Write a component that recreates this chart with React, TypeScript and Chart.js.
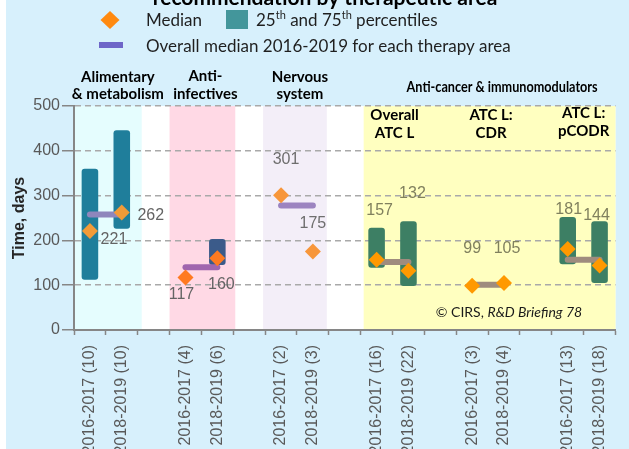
import React, { useEffect, useRef } from 'react';
import { Chart, registerables } from 'chart.js';

Chart.register(...registerables);

// ---------- DATA ----------
const categories = [
  '2016-2017 (10)', '2018-2019 (10)', '',
  '2016-2017 (4)', '2018-2019 (6)', '',
  '2016-2017 (2)', '2018-2019 (3)', '',
  '2016-2017 (16)', '2018-2019 (22)', '',
  '2016-2017 (3)', '2018-2019 (4)', '',
  '2016-2017 (13)', '2018-2019 (18)',
];
const percentile25 = [112, 226, null, null, 145, null, null, null, null, 139, 98, null, null, null, null, 147, 105];
const percentile75 = [360, 446, null, null, 203, null, null, null, null, 228, 243, null, null, null, null, 252, 243];
const medians = [221, 262, null, 117, 160, null, 301, 175, null, 157, 132, null, 99, 105, null, 181, 144];
const overallMedian = [258, 140, 278, 152, 101, 157];
const overallStart = [0, 3, 6, 9, 12, 15];
const yTicks = [0, 100, 200, 300, 400, 500];

// ---------- STYLES ----------
const W = 629;
const H = 449;
const barColors = ['#1F7E9B', '#1F7E9B', null, '#3B5B8A', '#3B5B8A', null, null, null, null,
  '#3D7F64', '#3D7F64', null, null, null, null, '#3D7F64', '#3D7F64'];
const diamondColors = ['#F29B38', '#F29B38', null, '#FF7A21', '#FF7A21', null, '#F7963A', '#F7963A', null,
  '#FF9900', '#FF9900', null, '#FF9900', '#FF9900', null, '#FF9900', '#FF9900'];
const overallColors = ['#8F86BC', '#A066AE', '#9C84C0', '#9F8C7E', '#9F8C7E', '#9F8C7E'];
const labelColors = ['#646464', '#646464', null, '#646464', '#646464', null, '#6E6E6E', '#6E6E6E', null,
  '#80805E', '#80805E', null, '#80805E', '#80805E', null, '#80805E', '#80805E'];
// label offsets relative to the diamond (pixels)
const labelOffsets: ([number, number] | null)[] = [
  [24, 9], [29, 3], null, [-4, 17], [4, 26], null, [5, -36], [0, -28], null,
  [3, -49], [4, -77], null, [0, -37], [3, -34], null, [1, -39], [-3, -50],
];
const bands = [
  { from: 0, to: 1, color: '#E5FDFE', dx0: 0, dx1: 4 },
  { from: 3, to: 4, color: '#FFD9E5', dx0: 0, dx1: 2 },
  { from: 6, to: 7, color: '#F3EEF8', dx0: -2, dx1: -2 },
  { from: 9, to: 16, color: '#FFFFC0', dx0: 3, dx1: 0 },
];

const LATO = 'Lato, "Open Sans", sans-serif';
const ARIAL = '"Liberation Sans", Arial, sans-serif';

function txt(ctx: CanvasRenderingContext2D, s: string, x: number, y: number, font: string, color: string, align: CanvasTextAlign = 'center', maxW?: number) {
  ctx.font = font;
  ctx.fillStyle = color;
  ctx.textAlign = align;
  ctx.textBaseline = 'middle';
  if (maxW) ctx.fillText(s, x, y, maxW);
  else ctx.fillText(s, x, y);
}

const decoPlugin = {
  id: 'deco',
  beforeDraw(chart: any) {
    const { ctx, chartArea: a, scales } = chart;
    const x = scales.x;
    const cw = (a.right - a.left) / categories.length;
    ctx.save();
    ctx.fillStyle = '#FFFFFF';
    ctx.fillRect(0, 0, W, H);
    ctx.fillStyle = '#D7F0FC';
    ctx.fillRect(6, 0, W - 6, H);
    ctx.fillStyle = '#FFFFFF';
    ctx.fillRect(a.left, a.top, a.right - a.left, a.bottom - a.top);
    bands.forEach((b) => {
      const x0 = Math.max(a.left, x.getPixelForValue(b.from) - cw / 2 + b.dx0);
      const x1 = Math.min(a.right, x.getPixelForValue(b.to) + cw / 2 + b.dx1);
      ctx.fillStyle = b.color;
      ctx.fillRect(x0, a.top, x1 - x0, a.bottom - a.top);
    });
    ctx.restore();
  },
  afterDraw(chart: any) {
    const { ctx, scales } = chart;
    const x = scales.x;
    const y = scales.y;
    ctx.save();

    // title (cut off at top)
    ctx.font = `bold 21px ${LATO}`;
    ctx.fillStyle = '#000000';
    ctx.textAlign = 'center';
    ctx.textBaseline = 'alphabetic';
    ctx.fillText('recommendation by therapeutic area', 325, 5);

    // legend
    ctx.fillStyle = '#FF8A10';
    ctx.beginPath();
    ctx.moveTo(110, 11); ctx.lineTo(119.5, 20); ctx.lineTo(110, 29); ctx.lineTo(100.5, 20);
    ctx.closePath();
    ctx.fill();
    txt(ctx, 'Median', 146, 21, `17px ${LATO}`, '#1F1F1F', 'left');
    ctx.fillStyle = '#43969B';
    ctx.fillRect(226, 10, 22, 19);
    // 25th and 75th percentiles with superscripts
    const parts: [string, boolean][] = [['25', false], ['th', true], [' and 75', false], ['th', true], [' percentiles', false]];
    let cx = 256;
    ctx.textAlign = 'left';
    ctx.textBaseline = 'middle';
    ctx.fillStyle = '#1F1F1F';
    parts.forEach(([s, sup]) => {
      ctx.font = sup ? `11px ${LATO}` : `17px ${LATO}`;
      ctx.fillText(s, cx, sup ? 15 : 21);
      cx += ctx.measureText(s).width;
    });
    ctx.fillStyle = '#6E66C8';
    ctx.fillRect(99, 42, 24, 6);
    txt(ctx, 'Overall median 2016-2019 for each therapy area', 146, 47, `17px ${LATO}`, '#1F1F1F', 'left');

    // group headers above plot
    const mid = (i: number, j: number) => (x.getPixelForValue(i) + x.getPixelForValue(j)) / 2;
    const hb = `bold 15px ${LATO}`;
    txt(ctx, 'Alimentary', mid(0, 1) + 12, 77, hb, '#000');
    txt(ctx, '& metabolism', mid(0, 1) + 12, 94, hb, '#000');
    txt(ctx, 'Anti-', mid(3, 4) + 4, 76, hb, '#000');
    txt(ctx, 'infectives', mid(3, 4) + 4, 94, hb, '#000');
    txt(ctx, 'Nervous', mid(6, 7) + 3, 77, hb, '#000');
    txt(ctx, 'system', mid(6, 7) + 3, 94, hb, '#000');
    txt(ctx, 'Anti-cancer & immunomodulators', mid(9, 16) + 14, 87, `bold 15px ${LATO}`, '#000', 'center', 191);
    // sub headers inside plot
    txt(ctx, 'Overall', mid(9, 10) + 2, 115, hb, '#000');
    txt(ctx, 'ATC L', mid(9, 10) + 2, 133, hb, '#000');
    txt(ctx, 'ATC L:', mid(12, 13) + 3, 115, hb, '#000');
    txt(ctx, 'CDR', mid(12, 13) + 3, 133, hb, '#000');
    txt(ctx, 'ATC L:', mid(15, 16), 113, hb, '#000');
    txt(ctx, 'pCODR', mid(15, 16), 131, hb, '#000');

    // median value labels
    medians.forEach((m, i) => {
      const off = labelOffsets[i];
      if (m == null || !off) return;
      txt(ctx, String(m), x.getPixelForValue(i) + off[0], y.getPixelForValue(m) + off[1], `16px ${ARIAL}`, labelColors[i] as string);
    });

    // copyright
    ctx.textBaseline = 'middle';
    ctx.textAlign = 'left';
    ctx.fillStyle = '#1A1A1A';
    ctx.font = `14px ${LATO}`;
    const p1 = '\u00A9 CIRS, ';
    const p2 = 'R&D Briefing 78';
    const w1 = ctx.measureText(p1).width;
    ctx.font = `italic 14px ${LATO}`;
    const w2 = ctx.measureText(p2).width;
    const sx = 509 - (w1 + w2) / 2;
    ctx.font = `14px ${LATO}`;
    ctx.fillText(p1, sx, 312);
    ctx.font = `italic 14px ${LATO}`;
    ctx.fillText(p2, sx + w1, 312);

    ctx.restore();
  },
};

export default function App() {
  const ref = useRef<HTMLCanvasElement>(null);

  useEffect(() => {
    const canvas = ref.current;
    if (!canvas) return;

    const overallDatasets = overallMedian.map((v, g) => ({
      type: 'line' as const,
      data: categories.map((_, i) => (i === overallStart[g] || i === overallStart[g] + 1 ? v : null)),
      borderColor: overallColors[g],
      borderWidth: 6,
      borderCapStyle: 'round' as const,
      pointRadius: 0,
      pointHoverRadius: 0,
      spanGaps: false,
      order: 2,
    }));

    const chart = new Chart(canvas, {
      type: 'bar',
      data: {
        labels: categories,
        datasets: [
          {
            type: 'bar',
            data: categories.map((_, i) => (percentile25[i] == null ? null : [percentile25[i], percentile75[i]])) as any,
            backgroundColor: barColors.map((c) => c || 'rgba(0,0,0,0)'),
            borderRadius: 3,
            borderSkipped: false,
            barPercentage: 0.52,
            categoryPercentage: 1,
            order: 3,
          },
          ...overallDatasets,
          {
            type: 'line',
            data: medians as any,
            showLine: false,
            pointStyle: 'rectRot',
            pointRadius: 8,
            pointHoverRadius: 8,
            pointBorderWidth: 0,
            pointBackgroundColor: diamondColors.map((c) => c || 'rgba(0,0,0,0)'),
            order: 1,
          },
        ] as any,
      },
      options: {
        responsive: false,
        animation: false,
        devicePixelRatio: 1,
        layout: { padding: { top: 106, left: 0, right: 0, bottom: 0 } },
        plugins: {
          legend: { display: false },
          tooltip: { enabled: false },
          title: { display: false },
        },
        scales: {
          x: {
            offset: true,
            afterFit: (s: any) => { s.height = H - 330; },
            grid: {
              offset: true,
              drawOnChartArea: false,
              drawTicks: true,
              tickLength: 5,
              tickColor: '#868686',
              tickWidth: 1.5,
            },
            border: { display: true, color: '#868686', width: 2 },
            ticks: {
              autoSkip: false,
              maxRotation: 90,
              minRotation: 90,
              padding: 10,
              color: '#595959',
              font: { family: ARIAL, size: 16 },
            },
          },
          y: {
            min: 0,
            max: 500,
            afterFit: (s: any) => { s.width = 74; },
            afterBuildTicks: (s: any) => { s.ticks = yTicks.map((v) => ({ value: v })); },
            grid: {
              color: '#A9A9A9',
              lineWidth: 1.5,
              drawTicks: true,
              tickLength: 12,
              tickColor: '#868686',
              tickWidth: 1.5,
            },
            border: { display: true, color: '#868686', width: 2, dash: [6, 4] },
            ticks: {
              padding: 2,
              color: '#595959',
              font: { family: ARIAL, size: 16 },
            },
            title: {
              display: true,
              text: 'Time, days',
              color: '#262626',
              font: { family: ARIAL, size: 16, weight: 'bold' },
              padding: { top: 10, bottom: 0 },
            },
          },
        },
      },
      plugins: [decoPlugin],
    });

    return () => chart.destroy();
  }, []);

  return (
    <div style={{ position: 'absolute', left: 0, top: 0, width: W, height: H, overflow: 'hidden' }}>
      <canvas ref={ref} width={W} height={H} style={{ display: 'block', width: W, height: H }} />
    </div>
  );
}
